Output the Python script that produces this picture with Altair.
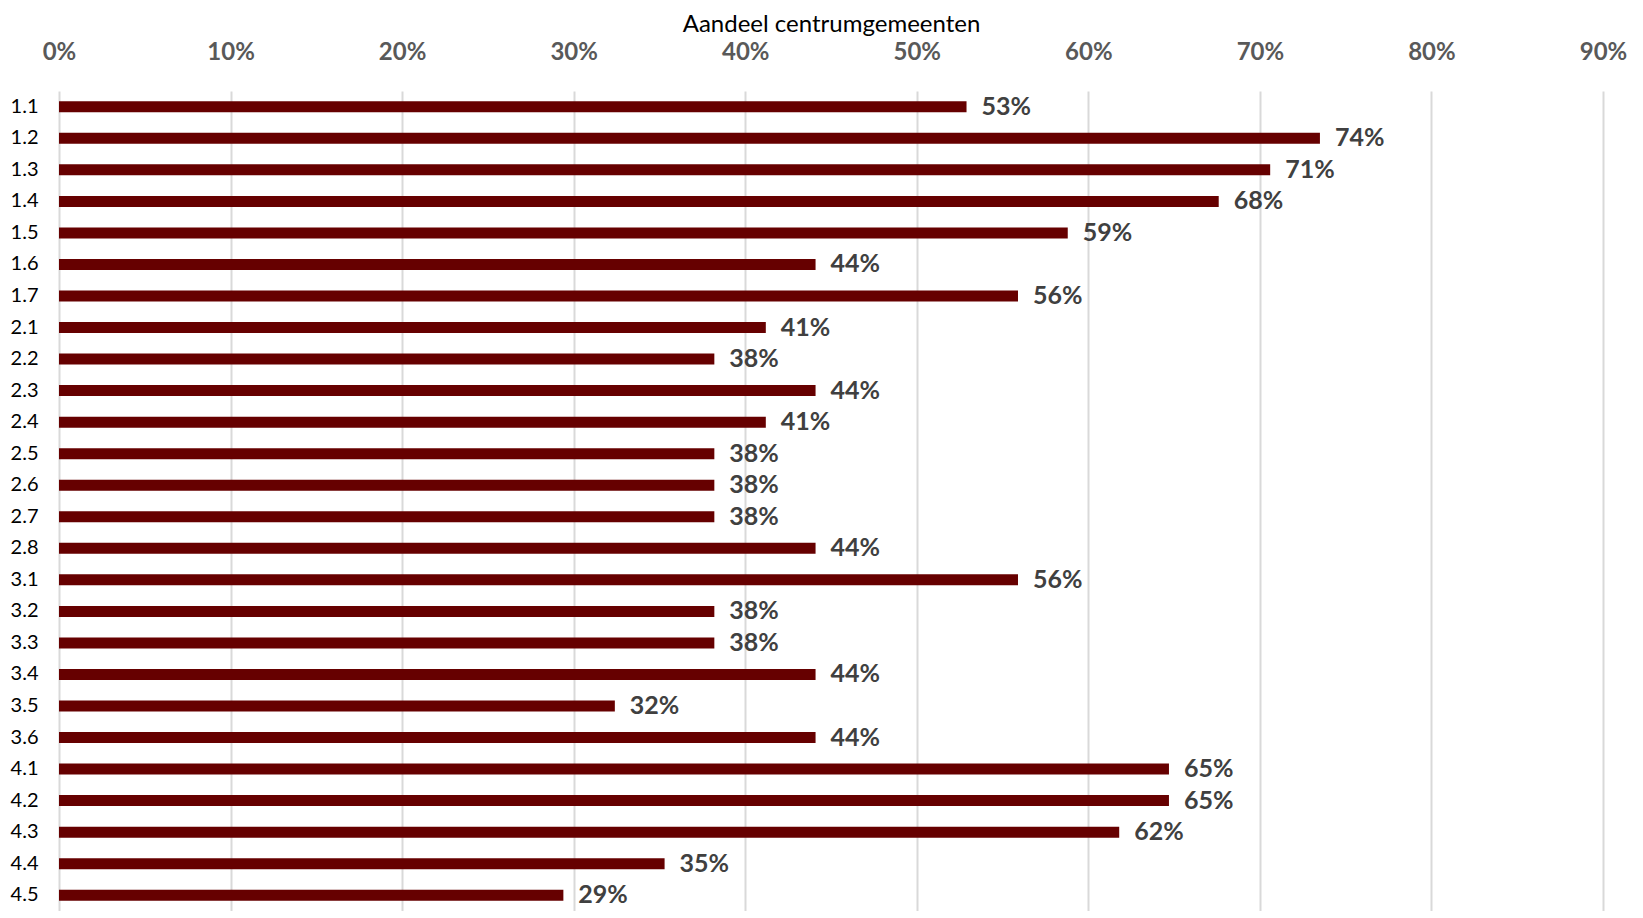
import altair as alt
import pandas as pd

categories = ["1.1", "1.2", "1.3", "1.4", "1.5", "1.6", "1.7",
              "2.1", "2.2", "2.3", "2.4", "2.5", "2.6", "2.7", "2.8",
              "3.1", "3.2", "3.3", "3.4", "3.5", "3.6",
              "4.1", "4.2", "4.3", "4.4", "4.5"]
values = [0.529, 0.735, 0.706, 0.676, 0.588, 0.441, 0.559,
          0.412, 0.382, 0.441, 0.412, 0.382, 0.382, 0.382, 0.441,
          0.559, 0.382, 0.382, 0.441, 0.324, 0.441,
          0.647, 0.647, 0.618, 0.353, 0.294]
tick_values = [0.0, 0.1, 0.2, 0.3, 0.4, 0.5, 0.6, 0.7, 0.8, 0.9]
x_title = "Aandeel centrumgemeenten"

df = pd.DataFrame({"cat": categories, "val": values})

FONT = "Lato"

x_enc = alt.X(
    "val:Q",
    scale=alt.Scale(domain=[0, 0.9], nice=False, zero=True),
    axis=alt.Axis(
        orient="top",
        values=tick_values,
        format=".0%",
        title=x_title,
        titleFont=FONT,
        titleFontSize=24,
        titleFontWeight="normal",
        titleColor="#000000",
        titlePadding=4,
        labelFont=FONT,
        labelFontSize=24,
        labelFontWeight="bold",
        labelColor="#595959",
        labelPadding=27,
        labelFlush=False,
        ticks=False,
        domain=False,
        grid=True,
        gridColor="#d9d9d9",
        gridWidth=2,
    ),
)
y_enc = alt.Y(
    "cat:N",
    sort=categories,
    scale=alt.Scale(paddingInner=0, paddingOuter=0),
    axis=alt.Axis(
        title=None,
        labelFont=FONT,
        labelFontSize=20,
        labelColor="#000000",
        labelPadding=21,
        ticks=False,
        domain=False,
        grid=False,
    ),
)

bars = alt.Chart(df).mark_bar(size=11, color="#660000").encode(x=x_enc, y=y_enc)
labels = alt.Chart(df).mark_text(
    align="left", baseline="middle", dx=15, font=FONT, fontSize=25,
    fontWeight="bold", color="#404040"
).encode(
    x=alt.X("val:Q"),
    y=alt.Y("cat:N", sort=categories),
    text=alt.Text("val:Q", format=".0%"),
)

chart = (bars + labels).properties(
    width=1544, height=820,
    padding={"left": 2, "top": 4, "right": 5, "bottom": 0},
).configure_view(stroke=None)

chart.save("out.html", embed_options={"renderer": "svg", "actions": False})
